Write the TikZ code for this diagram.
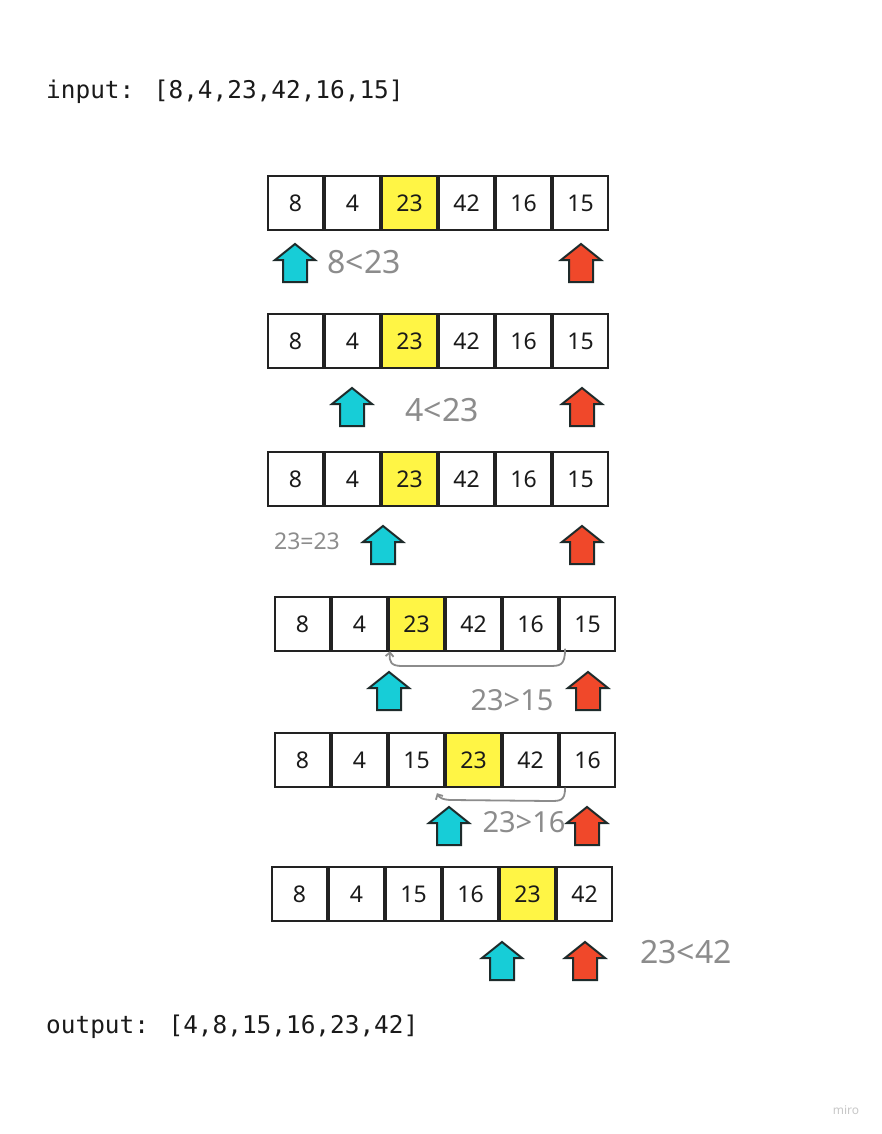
\documentclass[tikz,border=0pt]{standalone}
\usepackage{fontspec}
\setmainfont{Noto Sans}
\newfontfamily\monof{DejaVu Sans Mono}
\newfontfamily\handf{Noto Sans}
\usetikzlibrary{arrows.meta}
\definecolor{cellyellow}{HTML}{FFF545}
\definecolor{cyanc}{HTML}{17CDD7}
\definecolor{redc}{HTML}{F0482A}
\definecolor{ptrline}{HTML}{1E2B2B}
\definecolor{cellline}{HTML}{222222}
\definecolor{handgray}{HTML}{8C8C8C}
\definecolor{mirogray}{HTML}{C8C8C8}
\definecolor{textdark}{HTML}{1A1A1A}
\tikzset{
  cell/.style={draw=cellline, line width=2.4pt, minimum width=54.5pt, minimum height=54pt,
    inner sep=0pt, font=\fontsize{23}{23}\selectfont, text=textdark},
  ptr/.pic={\draw[draw=ptrline, line width=2pt, line join=miter, fill=#1]
      (0,0) -- (20,16) -- (12,16) -- (12,38) -- (-12,38) -- (-12,16) -- (-20,16) -- cycle;},
  hand/.style={text=handgray, inner sep=0pt},
  loopline/.style={draw=handgray, line width=1.8pt, line cap=round,
    -{Straight Barb[length=4pt,width=8pt]}},
  mono/.style={font=\monof\fontsize{24.4}{24.4}\selectfont, text=textdark, inner sep=0pt, anchor=base west}
}
\newcommand\cellrow[5]{%
  \foreach \v [count=\i] in {#5} {%
    \ifnum\i=#4\relax\def\cf{cellyellow}\else\def\cf{white}\fi
    \node[cell,fill=\cf] (#1c\i) at ({#2+57*\i-28.5},#3) {\v};
  }}
\begin{document}
\begin{tikzpicture}[x=1pt,y=-1pt]
\useasboundingbox[fill=white] (0,0) rectangle (881,1134);

\node[mono] (inp) at (46,99) {input: [8,4,23,42,16,15]};
\node[mono] (outp) at (46,1033) {output: [4,8,15,16,23,42]};

\cellrow{r1}{267}{203}{3}{8,4,23,42,16,15}
\cellrow{r2}{267}{341}{3}{8,4,23,42,16,15}
\cellrow{r3}{267}{479}{3}{8,4,23,42,16,15}
\cellrow{r4}{274}{624}{3}{8,4,23,42,16,15}
\cellrow{r5}{274}{760}{4}{8,4,15,23,42,16}
\cellrow{r6}{271}{894}{5}{8,4,15,16,23,42}

% pointers
\pic (p1l) at (295,244) {ptr=cyanc};
\pic (p1r) at (581,244) {ptr=redc};
\pic (p2l) at (352,388) {ptr=cyanc};
\pic (p2r) at (582,388) {ptr=redc};
\pic (p3l) at (383,526) {ptr=cyanc};
\pic (p3r) at (582,526) {ptr=redc};
\pic (p4l) at (389,672) {ptr=cyanc};
\pic (p4r) at (588,672) {ptr=redc};
\pic (p5l) at (449,807) {ptr=cyanc};
\pic (p5r) at (587,807) {ptr=redc};
\pic (p6l) at (502,942) {ptr=cyanc};
\pic (p6r) at (585,942) {ptr=redc};

% handwritten comparisons
\node[hand, font=\handf\fontsize{32}{32}\selectfont] (h1) at (364,262) {8<23};
\node[hand, font=\handf\fontsize{32}{32}\selectfont] (h2) at (442,410) {4<23};
\node[hand, font=\handf\fontsize{23}{23}\selectfont] (h3) at (307,541) {23=23};
\node[hand, font=\handf\fontsize{29}{29}\selectfont] (h4) at (512,700) {23>15};
\node[hand, font=\handf\fontsize{29}{29}\selectfont] (h5) at (524,822) {23>16};
\node[hand, font=\handf\fontsize{32}{32}\selectfont] (h6) at (686,952) {23<42};

% swap loops
\draw[loopline] ([xshift=6pt,yshift=3pt]r4c6.south west)
  .. controls (565,666) and (560,666) .. (548,666) -- (402,666)
  .. controls (391,666) and (389,662) .. ([xshift=2pt,yshift=1pt]r4c3.south west);
\draw[loopline] ([xshift=6pt]r5c6.south west)
  .. controls (565,801) and (560,801) .. (550,801) -- (452,800)
  .. controls (442,800) and (439,797) .. ([xshift=-8pt,yshift=-5pt]r5c3.south east);

\node[text=mirogray, font=\fontsize{12}{12}\selectfont, inner sep=0pt] (miro) at (846,1110) {miro};
\end{tikzpicture}
\end{document}
